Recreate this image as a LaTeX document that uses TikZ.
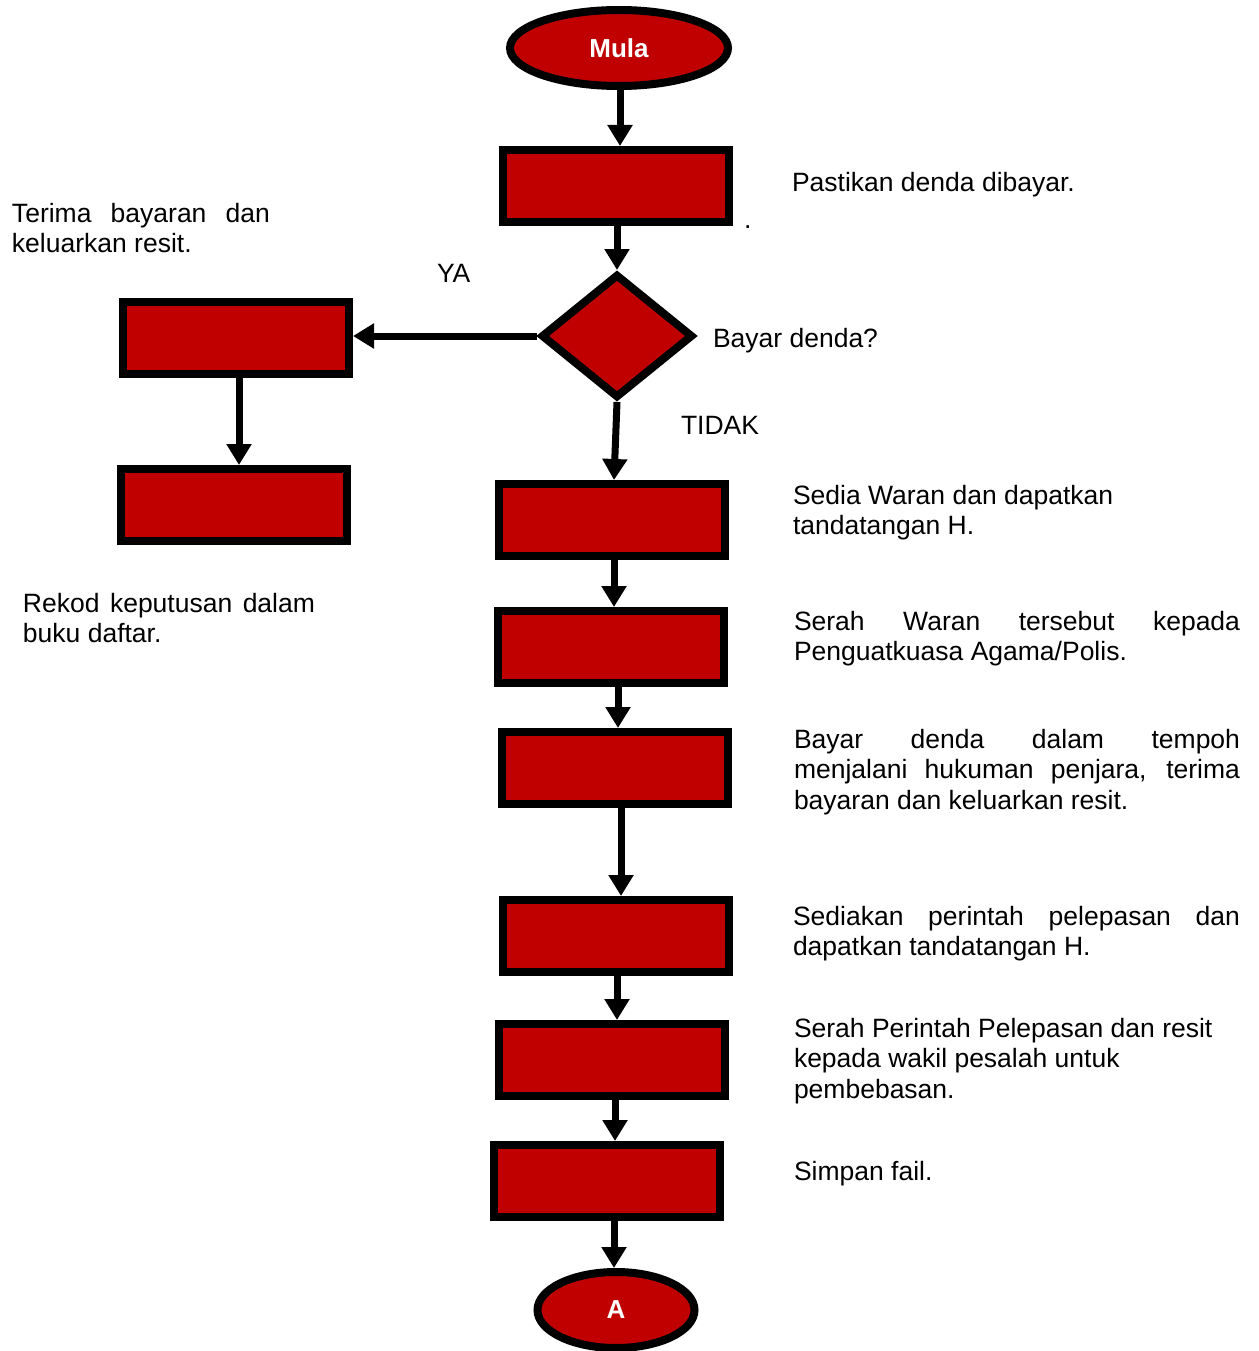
\documentclass[tikz,border=0pt]{standalone}
\usepackage{fontspec}
\setmainfont{Liberation Sans}
\usetikzlibrary{shapes.geometric,arrows.meta}
\definecolor{boxred}{RGB}{192,0,0}
\newcommand{\jline}[2]{\makebox[#1][s]{#2}}
\begin{document}
\begin{tikzpicture}[x=1pt,y=-1pt,
  every node/.style={inner sep=0pt, outer sep=0pt, font=\fontsize{26.5}{30.5}\selectfont},
  procbox/.style={draw=black, line width=8pt, fill=boxred, minimum width=226pt, minimum height=72pt, outer sep=4pt},
  term/.style={ellipse, draw=black, line width=8pt, fill=boxred, outer sep=4pt, text=white, font=\bfseries\fontsize{26}{30}\selectfont},
  dec/.style={diamond, draw=black, line width=8pt, fill=boxred, minimum width=152pt, minimum height=124pt, outer sep=4pt},
  arr/.style={line width=7pt, -{Triangle[width=24pt,length=21pt]}},
  lbl/.style={anchor=base west},
  para/.style={anchor=north west, align=left}
]
\useasboundingbox (0,0) rectangle (1258,1351);

% shapes
\node[term, minimum width=218pt, minimum height=76pt] (start) at (619,48) {Mula};
\node[procbox] (p1) at (616,186) {};
\node[dec] (d) at (617,336) {};
\node[procbox] (y1) at (236,338) {};
\node[procbox] (y2) at (234,505) {};
\node[procbox] (p2) at (612,520) {};
\node[procbox] (p3) at (611,647) {};
\node[procbox] (p4) at (615,768) {};
\node[procbox] (p5) at (616,936) {};
\node[procbox] (p6) at (612,1060) {};
\node[procbox] (p7) at (607,1181) {};
\node[term, minimum width=157pt, minimum height=76pt] (stop) at (616,1310) {A};

% connectors
\draw[arr] ([xshift=1pt]start.south) -- ([xshift=1pt]start.south |- p1.north);
\draw[arr] ([xshift=1pt]p1.south) -- (d.north);
\draw[arr] (d.west) -- (d.west -| y1.east);
\draw[arr] ([xshift=3pt]y1.south) -- ([xshift=3pt]y1.south |- y2.north);
\draw[arr] (d.south) -- ([xshift=2pt]p2.north);
\draw[arr] ([xshift=2pt]p2.south) -- ([xshift=2pt]p2.south |- p3.north);
\draw[arr] ([xshift=7pt]p3.south) -- ([xshift=7pt]p3.south |- p4.north);
\draw[arr] ([xshift=6pt]p4.south) -- ([xshift=6pt]p4.south |- p5.north);
\draw[arr] ([xshift=1pt]p5.south) -- ([xshift=1pt]p5.south |- p6.north);
\draw[arr] ([xshift=3pt]p6.south) -- ([xshift=3pt]p6.south |- p7.north);
\draw[arr] ([xshift=7pt]p7.south) -- ([xshift=7pt]p7.south |- stop.north);

% labels
\node[lbl] (t1) at (792,192) {Pastikan denda dibayar.};
\node[lbl] (dot) at (744,228) {.};
\node[para] (t2) at (12,203) {\jline{258pt}{Terima bayaran dan}\\keluarkan resit.};
\node[lbl] (ya) at (437,282) {YA};
\node[lbl] (q) at (713,347) {Bayar denda?};
\node[lbl] (no) at (681,434) {TIDAK};
\node[para] (t3) at (793,485) {Sedia Waran dan dapatkan\\tandatangan H.};
\node[para] (t4) at (23,593) {\jline{292pt}{Rekod keputusan dalam}\\buku daftar.};
\node[para] (t5) at (794,611) {\jline{446pt}{Serah Waran tersebut kepada}\\Penguatkuasa Agama/Polis.};
\node[para] (t6) at (794,729) {\jline{446pt}{Bayar denda dalam tempoh}\\\jline{446pt}{menjalani hukuman penjara, terima}\\bayaran dan keluarkan resit.};
\node[para] (t7) at (793,906) {\jline{447pt}{Sediakan perintah pelepasan dan}\\dapatkan tandatangan H.};
\node[para] (t8) at (794,1018) {Serah Perintah Pelepasan dan resit\\kepada wakil pesalah untuk\\pembebasan.};
\node[lbl] (t9) at (794,1180) {Simpan fail.};
\end{tikzpicture}
\end{document}
